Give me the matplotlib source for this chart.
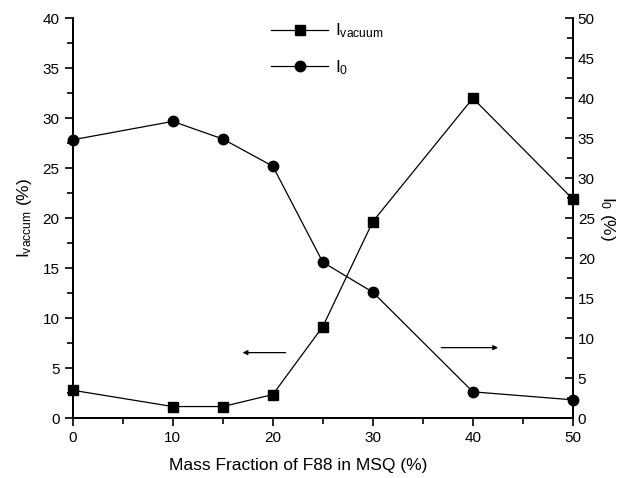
import matplotlib
matplotlib.use('Agg')
import matplotlib.pyplot as plt
from matplotlib.ticker import MultipleLocator

plt.rcParams['font.family'] = ['Liberation Sans', 'DejaVu Sans']
plt.rcParams['mathtext.default'] = 'regular'

# Daten
mass_fraction = [0, 10, 15, 20, 25, 30, 40, 50]
i_vacuum = [2.8, 1.17, 1.17, 2.37, 9.17, 19.67, 32.0, 21.9]
i_zero = [34.8, 37.1, 34.9, 31.5, 19.5, 15.75, 3.3, 2.3]

fig = plt.figure(figsize=(6.38, 4.78), dpi=100)
ax = fig.add_axes([0.114, 0.125, 0.784, 0.837])
ax2 = ax.twinx()

l1, = ax.plot(mass_fraction, i_vacuum, color='black', lw=0.9, marker='s',
              markersize=6.5, clip_on=False, zorder=5)
l2, = ax2.plot(mass_fraction, i_zero, color='black', lw=0.9, marker='o',
               markersize=7.5, clip_on=False, zorder=5)

ax.set_xlim(0, 50)
ax.set_ylim(0, 40)
ax2.set_ylim(0, 50)

for a in (ax, ax2):
    a.spines['top'].set_visible(False)
    for s in a.spines.values():
        s.set_linewidth(1.3)

ax.xaxis.set_major_locator(MultipleLocator(10))
ax.xaxis.set_minor_locator(MultipleLocator(5))
ax.yaxis.set_major_locator(MultipleLocator(5))
ax.yaxis.set_minor_locator(MultipleLocator(2.5))
ax2.yaxis.set_major_locator(MultipleLocator(5))
ax2.yaxis.set_minor_locator(MultipleLocator(2.5))

ax.tick_params(axis='both', which='major', direction='out', length=6, width=1.2,
               labelsize=11)
ax.tick_params(axis='both', which='minor', direction='out', length=4, width=1.2)
ax2.tick_params(axis='y', which='major', direction='in', length=6, width=1.2,
                labelsize=11)
ax2.tick_params(axis='y', which='minor', direction='in', length=4, width=1.2)

ax.set_xlabel('Mass Fraction of F88 in MSQ (%)', fontsize=12.5)
ax.xaxis.set_label_coords(0.45, -0.1)
ax.set_ylabel('I$_{vaccum}$ (%)', fontsize=12.5, labelpad=6)
ax2.set_ylabel('I$_0$ (%)', fontsize=12.5, rotation=270, va='bottom', labelpad=2)

# Pfeile: welche Achse gehoert zu welcher Kurve
ax.annotate('', xy=(16.7, 6.56), xytext=(21.56, 6.56),
            arrowprops=dict(arrowstyle='-|>', lw=0.9, color='black', mutation_scale=7))
ax.annotate('', xy=(42.8, 7.06), xytext=(36.56, 7.06),
            arrowprops=dict(arrowstyle='-|>', lw=0.9, color='black', mutation_scale=7))

ax2.legend([l1, l2], ['I$_{vacuum}$', 'I$_0$'], loc='upper left',
           bbox_to_anchor=(0.365, 1.03), frameon=False, fontsize=12.5,
           handlelength=3.3, labelspacing=1.0, handletextpad=0.4)

fig.savefig('out.png', dpi=100)
